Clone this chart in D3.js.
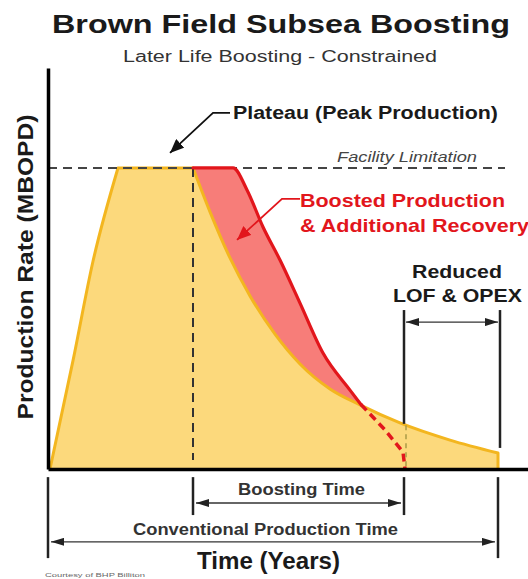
<!DOCTYPE html>
<html>
<head>
<meta charset="utf-8">
<script src="https://cdn.jsdelivr.net/npm/d3@7"></script>
<style>
  body { margin: 0; background: #fff; }
  svg { display: block; font-family: 'Liberation Sans', Arial, sans-serif; }
</style>
</head>
<body>
<svg id="chart"></svg>
<script>
// conventional production profile (years, % of facility limit)
const baseYears = [0.1, 1.25, 2.25, 3.5, 7.25, 8.1, 9.1, 10.1, 11.35, 12.6, 14.1, 15.6, 17.6, 20.1, 22.5];
const baseRate = [0, 36, 69, 100, 100, 85.4, 70.1, 57.5, 44.8, 34.9, 26.6, 21.3, 15.3, 9.6, 5.3];

// boosted profile (solid part, until it meets the base curve)
const boostYears = [7.25, 9.25, 9.95, 10.75, 11.6, 12.6, 13.75, 15.1, 15.65];
const boostRate = [100, 100, 92.7, 80.4, 69.4, 55.1, 38.5, 26.2, 21.4];

// boosted profile after the crossover (dashed)
const tailYears = [15.65, 16.85, 17.75, 17.85];
const tailRate = [21.4, 13, 5.6, 0];

const facilityLimit = 100;
const boostStart = 7.25;
const boostEnd = 17.8;
const prodEnd = 22.5;
const lofYears = [17.8, 22.6];
const lofBottom = [15, 7];

const width = 528;
const height = 579;

const x = d3.scaleLinear().domain([0, 24]).range([48, 528]);
const y = d3.scaleLinear().domain([0, 133.2]).range([469, 68]);

const yellowFill = '#fcd97c';
const yellowLine = '#f3b61f';
const redFill = '#f77d79';
const redLine = '#e2161c';

const svg = d3.select('#chart').attr('width', width).attr('height', height);

const defs = svg.append('defs');
function marker(id, color, len, half) {
  defs.append('marker')
    .attr('id', id)
    .attr('viewBox', `0 ${-half} ${len} ${half * 2}`)
    .attr('refX', len)
    .attr('refY', 0)
    .attr('markerUnits', 'userSpaceOnUse')
    .attr('markerWidth', len)
    .attr('markerHeight', half * 2)
    .attr('orient', 'auto-start-reverse')
    .append('path')
    .attr('d', `M0,${-half}L${len},0L0,${half}Z`)
    .attr('fill', color);
}
marker('arrSmall', '#222', 13, 4);
marker('arrBig', '#111', 14, 6);
marker('arrRed', redLine, 14, 6);

const pts = (xs, ys) => xs.map((d, i) => [d, ys[i]]);
const base = pts(baseYears, baseRate);
const boost = pts(boostYears, boostRate);
const tail = pts(tailYears, tailRate);

// join pieces drawn with different curves so the corners stay sharp
function joined(pieces) {
  return pieces
    .map(([data, curve], i) => {
      const s = d3.line().x(d => x(d[0])).y(d => y(d[1])).curve(curve)(data);
      return i === 0 ? s : 'L' + s.slice(1);
    })
    .join('');
}

const baseRise = base.slice(0, 4);
const basePlat = base.slice(3, 5);
const baseDecl = base.slice(4);
const basePath = joined([
  [baseRise, d3.curveMonotoneX],
  [basePlat, d3.curveLinear],
  [baseDecl, d3.curveMonotoneX],
]);

/* Boosted area (underneath) */
svg.append('path')
  .attr('d', joined([[boost, d3.curveMonotoneX]]) +
    `L${x(boostYears[boostYears.length - 1])},${y(0)}L${x(boostStart)},${y(0)}Z`)
  .attr('fill', redFill);

/* Conventional area */
svg.append('path')
  .attr('d', basePath + `L${x(prodEnd)},${y(0)}L${x(baseYears[0])},${y(0)}Z`)
  .attr('fill', yellowFill);

svg.append('path')
  .attr('d', `M${x(baseYears[0])},${y(0)}` + 'L' + basePath.slice(1) + `L${x(prodEnd)},${y(0)}`)
  .attr('fill', 'none')
  .attr('stroke', yellowLine)
  .attr('stroke-width', 3)
  .attr('stroke-linejoin', 'round');

/* Facility limitation */
svg.append('line')
  .attr('x1', x(0)).attr('x2', x(22.85))
  .attr('y1', y(facilityLimit)).attr('y2', y(facilityLimit))
  .attr('stroke', '#444')
  .attr('stroke-width', 2)
  .attr('stroke-dasharray', '9,6');

/* Start of boosting */
svg.append('line')
  .attr('x1', x(boostStart)).attr('x2', x(boostStart))
  .attr('y1', y(facilityLimit)).attr('y2', y(3))
  .attr('stroke', '#333')
  .attr('stroke-width', 2)
  .attr('stroke-dasharray', '9,6');

/* Boosted line */
svg.append('path')
  .attr('d', joined([[boost, d3.curveMonotoneX]]))
  .attr('fill', 'none')
  .attr('stroke', redLine)
  .attr('stroke-width', 3.2)
  .attr('stroke-linecap', 'round');

svg.append('path')
  .attr('d', joined([[tail, d3.curveLinear]]))
  .attr('fill', 'none')
  .attr('stroke', redLine)
  .attr('stroke-width', 3.5)
  .attr('stroke-dasharray', '8,5');

svg.append('line')
  .attr('x1', x(17.9)).attr('x2', x(17.9))
  .attr('y1', y(14.5)).attr('y2', y(1))
  .attr('stroke', '#a99a45')
  .attr('stroke-width', 1.5)
  .attr('stroke-dasharray', '5,4');

/* Reduced LOF & OPEX markers */
svg.selectAll('.lof')
  .data(lofYears)
  .enter()
  .append('line')
  .attr('class', 'lof')
  .attr('x1', d => x(d)).attr('x2', d => x(d))
  .attr('y1', y(52.8))
  .attr('y2', (d, i) => y(lofBottom[i]))
  .attr('stroke', '#222')
  .attr('stroke-width', 2.5);

svg.append('line')
  .attr('x1', x(lofYears[0]) + 2).attr('x2', x(lofYears[1]) - 2)
  .attr('y1', y(48.8)).attr('y2', y(48.8))
  .attr('stroke', '#333')
  .attr('stroke-width', 1.3)
  .attr('marker-start', 'url(#arrSmall)')
  .attr('marker-end', 'url(#arrSmall)');

/* Axes */
const axisStyle = g => g.select('.domain').attr('stroke', '#000').attr('stroke-width', 3.5);
svg.append('g')
  .attr('transform', `translate(${x(0)},0)`)
  .call(d3.axisLeft(y).tickValues([]).tickSizeOuter(0))
  .call(axisStyle);
svg.append('g')
  .attr('transform', `translate(0,${y(0)})`)
  .call(d3.axisBottom(x).tickValues([]).tickSizeOuter(0))
  .call(axisStyle);

/* Time spans below the axis */
const spanTicks = [
  { t: 0, bottom: -29.6 },
  { t: boostStart, bottom: -15.3 },
  { t: boostEnd, bottom: -15.3 },
  { t: prodEnd, bottom: -29.6 },
];
svg.selectAll('.span-tick')
  .data(spanTicks)
  .enter()
  .append('line')
  .attr('class', 'span-tick')
  .attr('x1', d => x(d.t)).attr('x2', d => x(d.t))
  .attr('y1', y(-2.7)).attr('y2', d => y(d.bottom))
  .attr('stroke', '#222')
  .attr('stroke-width', 2.5);

const spans = [
  { from: boostStart, to: boostEnd, v: -11.3 },
  { from: 0, to: prodEnd, v: -24.2 },
];
svg.selectAll('.span')
  .data(spans)
  .enter()
  .append('line')
  .attr('class', 'span')
  .attr('x1', d => x(d.from) + 3).attr('x2', d => x(d.to) - 3)
  .attr('y1', d => y(d.v)).attr('y2', d => y(d.v))
  .attr('stroke', '#333')
  .attr('stroke-width', 1.3)
  .attr('marker-start', 'url(#arrSmall)')
  .attr('marker-end', 'url(#arrSmall)');

/* Callout arrows */
const lineXY = d3.line().x(d => x(d[0])).y(d => y(d[1]));
svg.append('path')
  .attr('d', lineXY([[9.1, 118.3], [8.25, 118.3], [6.1, 105]]))
  .attr('fill', 'none')
  .attr('stroke', '#111')
  .attr('stroke-width', 1.8)
  .attr('marker-end', 'url(#arrBig)');
svg.append('path')
  .attr('d', lineXY([[12.6, 89.7], [11.7, 89.7], [9.45, 76.1]]))
  .attr('fill', 'none')
  .attr('stroke', redLine)
  .attr('stroke-width', 1.8)
  .attr('marker-end', 'url(#arrRed)');

/* Text */
function label(txt, px, py, opts) {
  const t = svg.append('text')
    .attr('x', px).attr('y', py)
    .attr('font-size', opts.size)
    .attr('font-weight', opts.weight || 'bold')
    .attr('font-style', opts.style || 'normal')
    .attr('fill', opts.color || '#1a1a1a')
    .attr('text-anchor', opts.anchor || 'start')
    .text(txt);
  if (opts.len) t.attr('textLength', opts.len).attr('lengthAdjust', 'spacingAndGlyphs');
  return t;
}

label('Brown Field Subsea Boosting', 281, 33, { size: 26, len: 458, anchor: 'middle' });
label('Later Life Boosting - Constrained', 280, 62, { size: 16, weight: 'normal', len: 314, anchor: 'middle', color: '#333' });
label('Plateau (Peak Production)', 233, 119, { size: 18, len: 265 });
label('Facility Limitation', 337, 162, { size: 15, weight: 'normal', style: 'italic', len: 140, color: '#444' });
label('Boosted Production', 300, 207, { size: 19, len: 205, color: redLine });
label('& Additional Recovery', 300, 232, { size: 19, len: 229, color: redLine });
label('Reduced', 457, 278, { size: 18, len: 90, anchor: 'middle' });
label('LOF & OPEX', 457.5, 302, { size: 18, len: 129, anchor: 'middle' });
label('Boosting Time', 301.5, 495, { size: 16, len: 127, anchor: 'middle', color: '#333' });
label('Conventional Production Time', 265.5, 535, { size: 16, len: 265, anchor: 'middle', color: '#333' });
label('Time (Years)', 268.5, 569, { size: 23, len: 143, anchor: 'middle' });
label('Courtesy of BHP Billiton', 45, 577, { size: 6, weight: 'normal', len: 100, color: '#666' });

label('Production Rate (MBOPD)', 0, 0, { size: 22, len: 305, anchor: 'middle' })
  .attr('transform', 'translate(33,267) rotate(-90)');
</script>
</body>
</html>
